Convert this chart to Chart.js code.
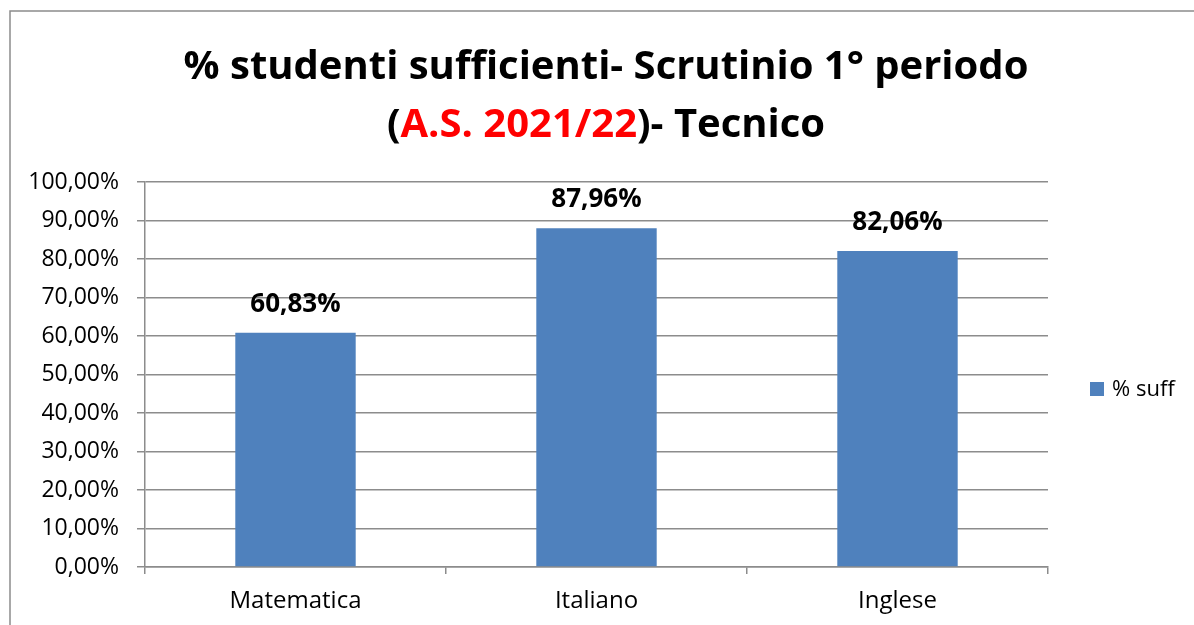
<!DOCTYPE html>
<html>
<head>
<meta charset="utf-8">
<script src="https://cdn.jsdelivr.net/npm/chart.js@4.4.0/dist/chart.umd.min.js"></script>
<style>
 html, body { margin: 0; padding: 0; background: #ffffff; }
 #wrap { width: 1194px; height: 625px; }
</style>
</head>
<body>
<div id="wrap"><canvas id="myBarChart" width="1194" height="625"></canvas></div>
<script>
// dati del grafico
var categories = ['Matematica', 'Italiano', 'Inglese'];
var suffValues = [60.83, 87.96, 82.06];
var seriesName = '% suff';
var yTicks = [0, 10, 20, 30, 40, 50, 60, 70, 80, 90, 100];
var titleLine1 = [['% studenti sufficienti- Scrutinio 1° periodo', '#000000']];
var titleLine2 = [['(', '#000000'], ['A.S. 2021/22', '#FF0000'], [')- Tecnico', '#000000']];

var barColor = '#4F81BD';
var lineColor = '#8C8C8C';
var fontName = '"Open Sans", "Liberation Sans", sans-serif';

function fmtPerc(v) {
    return v.toFixed(2).replace('.', ',') + '%';
}

// cornice + titolo a due colori
var frameTitlePlugin = {
    id: 'frameTitle',
    beforeDraw: function (chart) {
        var ctx = chart.ctx;
        ctx.save();
        ctx.strokeStyle = lineColor;
        ctx.lineWidth = 1.5;
        ctx.beginPath();
        ctx.moveTo(10, 640);
        ctx.lineTo(10, 11);
        ctx.lineTo(1200, 11);
        ctx.stroke();
        ctx.restore();
    },
    afterDraw: function (chart) {
        var ctx = chart.ctx;
        ctx.save();
        ctx.font = 'bold 40px ' + fontName;
        ctx.textBaseline = 'alphabetic';
        ctx.textAlign = 'left';
        [[titleLine1, 79], [titleLine2, 137]].forEach(function (row) {
            var parts = row[0];
            var total = 0;
            parts.forEach(function (p) { total += ctx.measureText(p[0]).width; });
            var x = 606 - total / 2;
            parts.forEach(function (p) {
                ctx.fillStyle = p[1];
                ctx.fillText(p[0], x, row[1]);
                x += ctx.measureText(p[0]).width;
            });
        });
        ctx.restore();
    }
};

// etichette sopra le barre
var barLabelPlugin = {
    id: 'barLabels',
    afterDatasetsDraw: function (chart) {
        var ctx = chart.ctx;
        var meta = chart.getDatasetMeta(0);
        ctx.save();
        ctx.font = 'bold 26px ' + fontName;
        ctx.fillStyle = '#000000';
        ctx.textAlign = 'center';
        ctx.textBaseline = 'alphabetic';
        meta.data.forEach(function (bar, i) {
            ctx.fillText(fmtPerc(chart.data.datasets[0].data[i]), bar.x, bar.y - 21);
        });
        ctx.restore();
    }
};

// legenda a destra
var legendPlugin = {
    id: 'sideLegend',
    afterDraw: function (chart) {
        var ctx = chart.ctx;
        var ds = chart.data.datasets[0];
        ctx.save();
        ctx.fillStyle = ds.backgroundColor;
        ctx.fillRect(1090, 382, 14, 14);
        ctx.fillStyle = '#000000';
        ctx.font = '22px ' + fontName;
        ctx.textBaseline = 'middle';
        ctx.textAlign = 'left';
        ctx.fillText(ds.label, 1112, 390);
        ctx.restore();
    }
};

var ctx = document.getElementById('myBarChart').getContext('2d');
var myBarChart = new Chart(ctx, {
    type: 'bar',
    data: {
        labels: categories,
        datasets: [{
            label: seriesName,
            data: suffValues,
            backgroundColor: barColor,
            borderWidth: 0,
            barPercentage: 0.4,
            categoryPercentage: 1.0
        }]
    },
    options: {
        responsive: false,
        animation: false,
        layout: { padding: { top: 182, right: 146, bottom: 0, left: 0 } },
        plugins: {
            legend: { display: false },
            title: { display: false },
            tooltip: { enabled: false }
        },
        scales: {
            x: {
                afterFit: function (scale) { scale.height = 58; },
                grid: {
                    drawOnChartArea: false,
                    drawTicks: true,
                    tickLength: 7,
                    color: lineColor,
                    lineWidth: 1.5
                },
                border: { color: lineColor, width: 1.5 },
                ticks: {
                    color: '#000000',
                    font: { family: fontName, size: 24 },
                    padding: 13
                }
            },
            y: {
                min: 0,
                max: 100,
                afterFit: function (scale) { scale.width = 145; },
                afterBuildTicks: function (scale) {
                    scale.ticks = yTicks.map(function (v) { return { value: v }; });
                },
                grid: {
                    color: lineColor,
                    lineWidth: 1.5,
                    drawTicks: true,
                    tickLength: 8
                },
                border: { color: lineColor, width: 1.5 },
                ticks: {
                    color: '#000000',
                    font: { family: fontName, size: 23 },
                    padding: 18,
                    callback: function (v) { return fmtPerc(v); }
                }
            }
        }
    },
    plugins: [frameTitlePlugin, barLabelPlugin, legendPlugin]
});
</script>
</body>
</html>
